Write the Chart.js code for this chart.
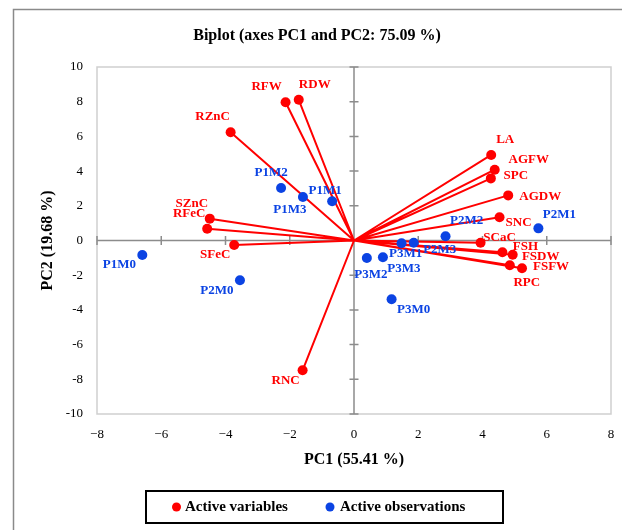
<!DOCTYPE html>
<html>
<head>
<meta charset="utf-8">
<script src="https://cdn.jsdelivr.net/npm/chart.js@4/dist/chart.umd.min.js"></script>
<style>
html,body{margin:0;padding:0;background:#fff;}
#wrap{width:622px;height:530px;}
</style>
</head>
<body>
<div id="wrap"><canvas id="c" width="622" height="530"></canvas></div>
<script>
// ---- data ----
const chartTitle = 'Biplot (axes PC1 and PC2: 75.09 %)';
const xTitle = 'PC1 (55.41 %)';
const yTitle = 'PC2 (19.68 %)';
const legendLabels = ['Active variables', 'Active observations'];

const varNames = ['RFW','RDW','RZnC','SZnC','RFeC','SFeC','RNC','LA','AGFW','SPC','AGDW','SNC','SCaC','FSH','FSDW','RPC','FSFW'];
const varPC1 = [-2.13,-1.72,-3.84,-4.49,-4.57,-3.73,-1.60,4.27,4.38,4.26,4.80,4.53,3.94,4.62,4.94,4.85,5.23];
const varPC2 = [7.97,8.11,6.24,1.26,0.68,-0.26,-7.48,4.93,4.08,3.58,2.60,1.34,-0.13,-0.68,-0.82,-1.43,-1.60];

const obsNames = ['P1M0','P1M1','P1M2','P1M3','P2M0','P2M1','P2M2','P2M3','P3M0','P3M1','P3M2','P3M3'];
const obsPC1 = [-6.59,-0.68,-2.27,-1.59,-3.55,5.74,2.85,1.86,1.17,1.48,0.40,0.90];
const obsPC2 = [-0.84,2.26,3.03,2.51,-2.29,0.70,0.24,-0.13,-3.39,-0.16,-1.01,-0.97];

const xMin = -8, xMax = 8, xStep = 2;
const yMin = -10, yMax = 10, yStep = 2;

// ---- styles / label placement (pixel offsets, not data) ----
const RED = '#ff0000';
const BLUE = '#0b43e3';
const FONT = '"Liberation Serif","Times New Roman",serif';
const labelOffsets = {
  RFW:[-19,-16], RDW:[16,-15], RZnC:[-18,-16], SZnC:[-18,-15], RFeC:[-18,-15], SFeC:[-19,10], RNC:[-17,10],
  LA:[14,-15], AGFW:[34,-10], SPC:[25,-3], AGDW:[32,1], SNC:[19,5], SCaC:[19,-5], FSH:[23,-6], FSDW:[28,2], RPC:[17,17], FSFW:[29,-2],
  P1M0:[-23,10], P1M1:[-7,-11], P1M2:[-10,-15], P1M3:[-13,13], P2M0:[-23,10], P2M1:[21,-14], P2M2:[21,-16],
  P2M3:[26,7], P3M0:[22,10], P3M1:[4,10], P3M2:[4,17], P3M3:[21,11]
};

// vectors from origin, separated by gaps
const vecData = [];
varNames.forEach((n,i)=>{
  vecData.push({x:0,y:0,name:null});
  vecData.push({x:varPC1[i],y:varPC2[i],name:n});
  vecData.push({x:null,y:null,name:null});
});
const obsData = obsNames.map((n,i)=>({x:obsPC1[i],y:obsPC2[i],name:n}));

const decorPlugin = {
  id:'decor',
  beforeDraw(chart){
    const ctx = chart.ctx, a = chart.chartArea;
    const xs = chart.scales.x, ys = chart.scales.y;
    ctx.save();
    // outer frame
    ctx.strokeStyle = '#8a8a8a'; ctx.lineWidth = 1.5;
    ctx.beginPath(); ctx.moveTo(13.5, 530); ctx.lineTo(13.5, 9.5); ctx.lineTo(622, 9.5); ctx.stroke();
    // plot frame
    ctx.strokeStyle = '#cfcfcf'; ctx.lineWidth = 1.5;
    ctx.strokeRect(a.left, a.top, a.right-a.left, a.bottom-a.top);
    // zero axes
    const x0 = xs.getPixelForValue(0), y0 = ys.getPixelForValue(0);
    ctx.strokeStyle = '#8c8c8c'; ctx.lineWidth = 1.5;
    ctx.beginPath();
    ctx.moveTo(x0, a.top); ctx.lineTo(x0, a.bottom);
    ctx.moveTo(a.left, y0); ctx.lineTo(a.right, y0);
    ys.ticks.forEach(t=>{ if(t.value!==0){ const p = ys.getPixelForValue(t.value); ctx.moveTo(x0-4.5,p); ctx.lineTo(x0+4.5,p);} });
    xs.ticks.forEach(t=>{ if(t.value!==0){ const p = xs.getPixelForValue(t.value); ctx.moveTo(p,y0-4.5); ctx.lineTo(p,y0+4.5);} });
    ctx.stroke();
    // titles
    ctx.fillStyle = '#000';
    ctx.textAlign = 'center'; ctx.textBaseline = 'middle';
    ctx.font = 'bold 16px ' + FONT;
    ctx.fillText(chartTitle, 317, 36);
    ctx.fillText(xTitle, (a.left+a.right)/2, 460);
    ctx.save();
    ctx.translate(48, (a.top+a.bottom)/2);
    ctx.rotate(-Math.PI/2);
    ctx.fillText(yTitle, 0, 0);
    ctx.restore();
    ctx.restore();
  },
  afterDraw(chart){
    const ctx = chart.ctx;
    ctx.save();
    // point labels
    ctx.font = 'bold 13px ' + FONT;
    ctx.textAlign = 'center'; ctx.textBaseline = 'middle';
    chart.data.datasets.forEach((ds,di)=>{
      const meta = chart.getDatasetMeta(di);
      ds.data.forEach((d,i)=>{
        if(!d || !d.name) return;
        const el = meta.data[i];
        const off = labelOffsets[d.name] || [0,-12];
        ctx.fillStyle = ds.label === legendLabels[0] ? RED : BLUE;
        ctx.fillText(d.name, el.x + off[0], el.y + off[1]);
      });
    });
    // legend box
    ctx.strokeStyle = '#000'; ctx.lineWidth = 2;
    ctx.strokeRect(146, 491, 357, 32);
    ctx.font = 'bold 15px ' + FONT;
    ctx.textAlign = 'left'; ctx.textBaseline = 'middle';
    ctx.fillStyle = RED; ctx.beginPath(); ctx.arc(176.5, 507, 4.5, 0, Math.PI*2); ctx.fill();
    ctx.fillStyle = '#000'; ctx.fillText(legendLabels[0], 185, 507.5);
    ctx.fillStyle = BLUE; ctx.beginPath(); ctx.arc(330, 507, 4.5, 0, Math.PI*2); ctx.fill();
    ctx.fillStyle = '#000'; ctx.fillText(legendLabels[1], 340, 507.5);
    ctx.restore();
  }
};

new Chart(document.getElementById('c'), {
  type:'scatter',
  data:{
    datasets:[
      {
        label: legendLabels[1],
        data: obsData,
        backgroundColor: BLUE, borderColor: BLUE,
        pointRadius: 5, pointBorderWidth: 0,
        showLine:false
      },
      {
        label: legendLabels[0],
        data: vecData,
        backgroundColor: RED, borderColor: RED,
        borderWidth: 2,
        showLine:true, spanGaps:false,
        pointRadius: (c)=> (c.raw && c.raw.name) ? 5 : 0,
        pointBorderWidth: 0
      }
    ]
  },
  options:{
    responsive:false,
    animation:false,
    parsing:false,
    layout:{padding:{left:0, right:11, top:67, bottom:0}},
    plugins:{legend:{display:false}, tooltip:{enabled:false}, title:{display:false}},
    scales:{
      x:{
        type:'linear', min:xMin, max:xMax,
        ticks:{stepSize:xStep, color:'#000', font:{family:FONT, size:13}, padding:13,
          callback:(v)=> String(v).replace('-', '\u2212')},
        grid:{display:false, drawTicks:false},
        border:{display:false},
        afterFit:(s)=>{ s.height = 116; s.paddingLeft = 0; s.paddingRight = 0; }
      },
      y:{
        type:'linear', min:yMin, max:yMax,
        ticks:{stepSize:yStep, color:'#000', font:{family:FONT, size:13}, padding:14},
        grid:{display:false, drawTicks:false},
        border:{display:false},
        afterFit:(s)=>{ s.width = 97; s.paddingTop = 0; s.paddingBottom = 0; }
      }
    }
  },
  plugins:[decorPlugin]
});
</script>
</body>
</html>
